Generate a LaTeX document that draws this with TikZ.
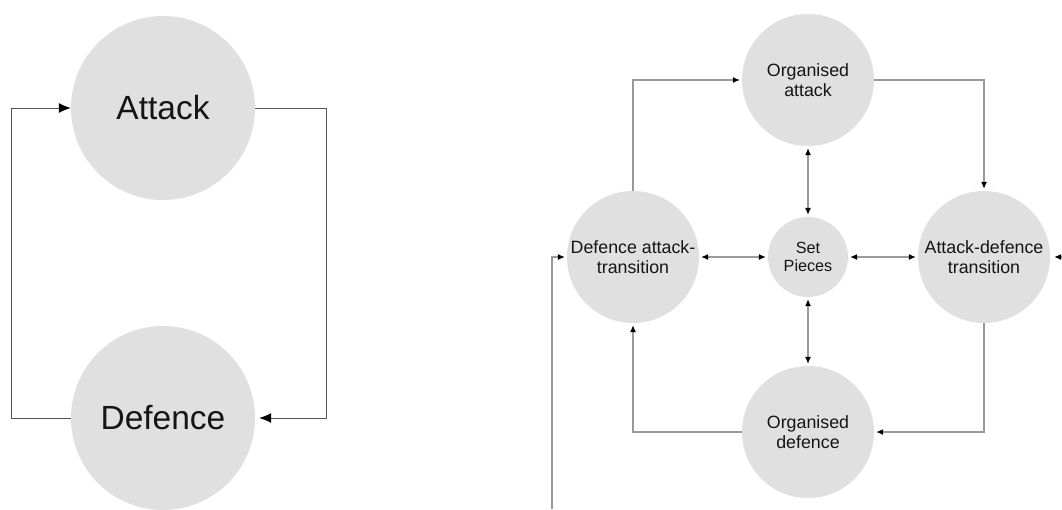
\documentclass[tikz,border=0pt]{standalone}
\usepackage{fontspec}
\setmainfont{Liberation Sans}
\usetikzlibrary{arrows.meta}
\definecolor{circfill}{HTML}{E0E0E0}
\definecolor{txt}{HTML}{151515}
\definecolor{lineL}{HTML}{555555}
\definecolor{lineR}{HTML}{9A9A9A}
\tikzset{
  circ/.style={circle, fill=circfill, draw=none, inner sep=0pt, text=txt, align=center},
  bigcirc/.style={circ, minimum size=184pt, font=\fontsize{33.5}{36}\selectfont},
  midcirc/.style={circ, minimum size=132pt, font=\fontsize{17.8}{19.5}\selectfont},
  smallcirc/.style={circ, minimum size=80pt, font=\fontsize{16.2}{17.5}\selectfont},
  lconn/.style={draw=lineL, line width=1pt, -{Latex[length=12pt,width=10pt,color=black]}},
  rconn/.style={draw=lineR, line width=1.1pt, -{Latex[length=7pt,width=6pt,color=black]}, shorten >=2pt},
  bconn/.style={draw=lineR, line width=1.1pt, {Latex[length=7pt,width=6pt,color=black]}-{Latex[length=7pt,width=6pt,color=black]}, shorten >=2pt, shorten <=2pt},
}
\begin{document}
\begin{tikzpicture}[x=1pt,y=-1pt]
\useasboundingbox (0,0) rectangle (1062,509);
% left diagram
\node[bigcirc] (attack) at (163,108) {Attack};
\node[bigcirc] (defence) at (163,418) {Defence};
\draw[lconn] (defence.west) -- ++(-59,0) |- (attack.west);
\draw[lconn] (attack.east) -- ++(71,0) |- ([xshift=4pt]defence.east);
% right diagram
\node[midcirc] (oa) at (808,80) {Organised\\attack};
\node[midcirc] (dat) at (633,257) {Defence attack-\\transition};
\node[smallcirc] (sp) at (808,257) {Set\\Pieces};
\node[midcirc] (adt) at (984,257) {Attack-defence\\transition};
\node[midcirc] (od) at (808,432) {Organised\\defence};
\coordinate (inR) at (1062,257);
\coordinate (inL) at (552,509);
\draw[rconn] (dat.north) |- (oa.west);
\draw[rconn] (oa.east) -| (adt.north);
\draw[rconn] (adt.south) |- (od.east);
\draw[rconn] (od.west) -| (dat.south);
\draw[bconn] (oa.south) -- (sp.north);
\draw[bconn] (sp.south) -- (od.north);
\draw[bconn] (dat.east) -- (sp.west);
\draw[bconn] (sp.east) -- (adt.west);
\draw[rconn, shorten >=4pt] (inR) -- (adt.east);
\draw[rconn] (inL) |- (dat.west);
\end{tikzpicture}
\end{document}
